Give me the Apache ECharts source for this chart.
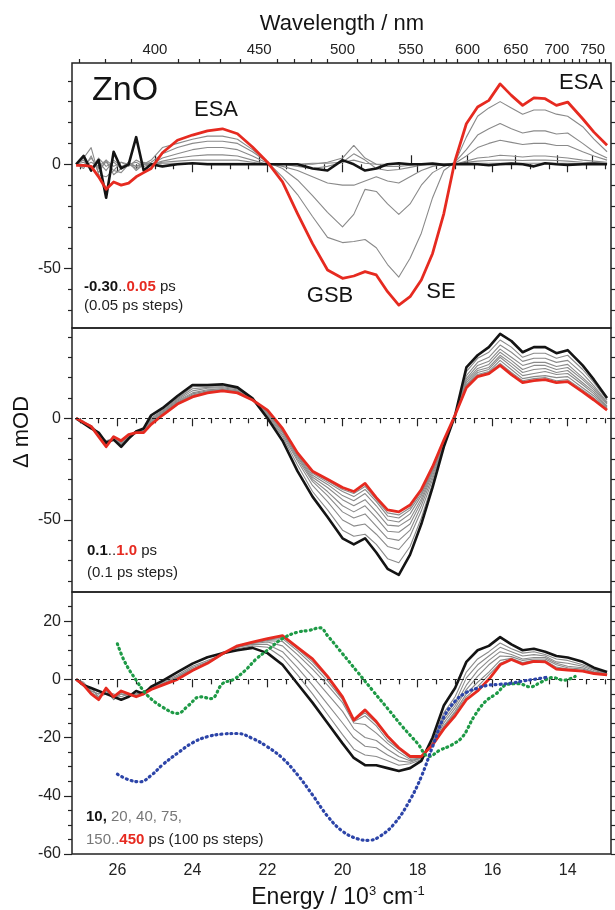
<!DOCTYPE html>
<html>
<head>
<meta charset="utf-8">
<title>ZnO transient spectra</title>
<script src="https://cdn.jsdelivr.net/npm/echarts@6/dist/echarts.min.js"></script>
<style>
html, body { margin: 0; padding: 0; background: #fff; }
#chart { width: 615px; height: 910px; }
</style>
</head>
<body>
<div id="chart"></div>
<script>
var FONT = '"Liberation Sans", Arial, Helvetica, sans-serif';

// energy grid, 10^3 cm-1 (shared by all transient curves)
var energy = [27.1, 26.9, 26.7, 26.5, 26.3, 26.1, 25.9, 25.7, 25.5, 25.3,
  25.1, 24.8, 24.4, 24.0, 23.6, 23.2, 22.8, 22.4, 22.0, 21.6,
  21.2, 20.8, 20.4, 20.0, 19.7, 19.4, 19.1, 18.8, 18.5, 18.2,
  17.9, 17.6, 17.3, 17.0, 16.7, 16.4, 16.1, 15.8, 15.5, 15.2,
  14.9, 14.6, 14.3, 14.0, 13.6, 13.3, 12.95];

/* top panel: -0.30 .. 0.05 ps */
var topBlack = [0, 4, -3, 2, -16, 6, -2, 0, 13, -3,
  0, -1, 0, 0.5, 0, 0, 0, 0, 0, 0,
  0, -2, -3, 2, 0, -3, -2, 0, 0.5, 0,
  0, 0.3, -0.3, 0, 0.2, 0, -0.5, 0, 0.3, 0,
  -1, 0.5, 0, -0.3, 0, 0.2, 0];
var topGray1 = [0, 3, 8, -5, -6, -3, -4, 0, -2, 0,
  2, 8, 10, 12, 13.5, 13.5, 12, 7, 1, -6,
  -14.5, -25, -35, -37.5, -37, -36, -40, -48, -54, -45,
  -33, -16, -3, 1, 13, 23, 27, 30, 27, 24,
  26, 26, 24, 23, 18, 12, 6];
var topGray2 = [0, -2, 4, -4, 2, -5, -2, 1, -3, 0,
  1, 5, 8, 10, 11, 11, 10, 6, 1, -2,
  -7.5, -15, -23, -30, -24, -12, -13, -19, -24, -19,
  -10, -4, -1, 1, 7, 14, 17, 19.5, 17, 15,
  16, 16, 14.5, 15, 10, 6, 3];
var topGray3 = [0, 2, -2, 1, -3, 2, -1, 0, 1, -1,
  0, 3, 5, 7, 8, 8, 7, 4, 0.5, -1,
  -3, -6, -9, -10, -10, -8, -6, -8, -9, -6,
  -3, -1, 0, 0.5, 4, 8, 10, 11.5, 10.5, 9.5,
  10, 10, 9, 9, 6, 4, 2];
var topGray4 = [0, -1, 3, -2, 1, -3, 1, -1, 2, 0,
  0, 1.5, 3, 4, 4.5, 4.5, 4, 2, 0, 0,
  -1, -2, -1, 1, 5, 2, -2, -3, -2.5, -1.5,
  -0.5, 0, 0, 0, 1.5, 3, 3.5, 4.3, 4, 3.5,
  4, 4, 3.5, 3, 2, 1.5, 1];
var topGray5 = [0, 1, -2, 3, -1, 1, -2, 1, -1, 1,
  0, 1, 1.5, 2, 2, 2, 2, 1, 0, 0,
  0, 0, 1, 3, 9, 3, 0, -1, -1, -0.5,
  0, 0, 0, 0, 1, 1.5, 1.8, 2, 2, 1.8,
  2, 2, 1.8, 1.5, 1, 0.8, 0.5];
var topGray6 = [0, -1, 1, -1, 2, -1, 1, 0, -1, 0,
  0, 0.5, 0.5, 0.5, 0.5, 0.5, 0.5, 0.5, 0, 0,
  0, 0.5, 0.5, 1, 2, 0.5, 0, 0, 0, 0,
  0, 0, 0, 0, 0.3, 0.5, 0.5, 0.5, 0.5, 0.5,
  0.5, 0.5, 0.5, 0.5, 0.3, 0.2, 0.1];
var topRed = [-0.5, -0.5, -1, -6, -12, -8.5, -10, -9, -6, -4,
  -2, 5.5, 11.5, 14, 16, 17, 14.6, 8.3, 1, -8.4,
  -23.6, -38, -50.6, -54.6, -53.5, -51.4, -53, -61, -67.4, -63.4,
  -55.4, -42.7, -23.6, 1.9, 19.4, 27.4, 30.6, 38.5, 33, 28.2,
  31.8, 31.4, 28.2, 29.8, 21.8, 15.4, 9.1];

/* middle panel: 0.1 .. 1.0 ps */
var midBlack = [0, -2.5, -5, -7, -12, -10.5, -14, -10, -6.5, -5,
  1.5, 5, 11, 16.4, 16.4, 16.7, 15.2, 9.8, 0, -11,
  -26, -38.5, -48.5, -59, -62, -59, -66, -74, -77, -67,
  -52, -34, -14, 1.5, 25, 31, 35, 41.5, 38, 32.5,
  35, 35, 32, 33.5, 26, 19, 10];
var midGray1 = [0, -1.5, -4, -8, -11, -10, -13, -9.5, -6, -5.5,
  1, 4.5, 10, 15.5, 15.8, 16, 14.8, 10, 1, -9,
  -23, -36, -45, -55, -58, -57, -62, -69, -71, -63,
  -49, -32, -13, 1.5, 23, 29.5, 32.5, 38.5, 35, 30,
  32, 32, 29.5, 31, 24, 17.5, 9];
var midGray2 = [0, -2, -3.5, -7, -13, -9, -12, -9, -7, -6,
  0, 4, 9.5, 14.5, 15.2, 15.5, 14.5, 10, 1.5, -8,
  -21, -33, -41, -50, -53, -52, -57, -63, -64.5, -58,
  -45.5, -30, -12.5, 1.5, 21, 27.5, 30, 36, 32.5, 28,
  29.5, 29.5, 27.5, 28.5, 22, 16, 8];
var midGray3 = [0, -2, -4, -8, -12, -9.5, -12.5, -8.5, -7, -6,
  -0.5, 3.5, 9, 13.5, 14.8, 15, 14, 9.8, 2, -7,
  -20, -31, -38, -46, -49, -47, -53, -59, -60, -55,
  -43, -28.5, -12, 1.5, 19.5, 26, 28, 34, 30, 26,
  27.5, 27.5, 25.5, 26.5, 20, 15, 7.5];
var midGray4 = [0, -2, -4, -8.5, -13, -9, -12, -8.5, -7, -6.5,
  -1, 3, 8.5, 12.5, 14, 14.5, 13.5, 9.5, 2.5, -6.5,
  -19, -30, -36, -43, -46, -43, -49, -55.5, -56, -52,
  -41, -27, -11.5, 1.5, 18.5, 24.5, 26.5, 32.5, 28.5, 24,
  26, 26, 24, 25, 19, 14, 7];
var midGray5 = [0, -2, -4, -9, -13.5, -9, -11.5, -8, -7, -6.5,
  -1.5, 2.5, 8, 12, 13.5, 14.2, 13.2, 9.3, 3, -6,
  -18.5, -29, -34, -40, -43, -40, -46, -52.5, -53, -49.5,
  -39.5, -26, -11, 1.5, 17.5, 23.5, 25, 31, 27, 22.5,
  24, 24.5, 22.5, 23.5, 17.5, 13, 6];
var midGray6 = [0, -2, -4, -9, -13.5, -9, -11.5, -8, -7, -7,
  -2, 2, 7.5, 11.5, 13, 14, 13, 9.2, 3.5, -5.5,
  -18, -28, -32.5, -38, -40.5, -37, -43, -50, -51, -47,
  -38, -25.5, -11, 1.5, 16.5, 22.5, 24, 30, 25.5, 21,
  22, 23, 21.5, 22, 16.5, 12, 5.5];
var midGray7 = [0, -2, -4, -9, -14, -9, -11, -8, -7, -7,
  -2.5, 2, 7.5, 11, 12.8, 13.8, 12.8, 9.2, 3.8, -5.2,
  -17.5, -27, -31.5, -36, -38.5, -35, -41, -48, -49, -45,
  -37, -25, -11, 1.5, 16, 21.5, 23, 28.5, 24, 19.5,
  20.5, 21, 20, 20.5, 15, 11, 5];
var midGray8 = [0, -2, -4, -9, -14, -9, -11, -8, -7, -7,
  -3, 1.8, 7.2, 10.8, 12.6, 13.6, 12.6, 9.1, 3.9, -5.1,
  -17.2, -26.5, -30.7, -35, -37, -33.5, -40, -46.5, -47.5, -44,
  -36, -24.5, -10.8, 1.6, 15.5, 21, 22.5, 27, 22.5, 18.5,
  19.5, 20, 18.5, 19, 14, 10, 4.5];
var midRed = [0, -2, -4, -9, -14, -9, -11, -8, -7, -7,
  -3, 1.5, 7, 10.5, 12.5, 13.5, 12.5, 9, 4, -5,
  -17, -26, -30, -34, -36, -32, -39, -45, -46, -42.6,
  -35, -23.8, -10.7, 1.6, 15, 20.5, 22, 26, 21.5, 17.5,
  18.5, 19, 17.5, 18, 13, 9, 4];

/* bottom panel: 10, 20, 40, 75, 150..450 ps */
var botBlack = [0, -2, -3, -4, -5, -6, -7, -6, -4, -5,
  -2.5, -0.5, 2.5, 5.4, 7.6, 9, 10, 10.8, 9, 5,
  -1.5, -8, -15, -22, -27, -29.5, -29.5, -30.5, -31.5, -30.5,
  -28, -20, -9, -3, 6, 10, 11.5, 14.5, 12, 10,
  10.5, 9.5, 8, 7.5, 6, 4, 2.5];
var botGray1 = [0, -1, -4, -5, -4, -7, -5, -6, -5, -4,
  -3, -1, 1.5, 4.5, 6.5, 8.5, 10.5, 11.5, 11, 7.5,
  1.5, -5, -12, -19, -24, -26, -26.5, -28, -29.5, -29,
  -27.5, -21.5, -11.5, -6, 2.5, 7, 9.5, 12.5, 10.5, 9,
  9.5, 8.5, 7, 6.5, 5, 3.5, 2];
var botGray2 = [0, -2, -3, -6, -5, -5, -6, -5, -5, -4.5,
  -3, -1.5, 1, 4, 6, 8.5, 11, 12, 12, 9.5,
  4, -2, -8.5, -15, -20, -23, -23.5, -26, -28, -28.5,
  -27, -21.5, -13, -8, 0.5, 5, 8, 11, 9.5, 8,
  8.5, 8, 6, 5.5, 4.5, 3, 2];
var botGray3 = [0, -2, -4, -5, -4, -6, -5, -5.5, -5.5, -4.5,
  -3, -1.5, 1, 3.5, 5.5, 8.5, 11, 12.3, 12.8, 11.5,
  6.5, 1, -5, -11, -17, -20, -21, -24, -26.5, -28,
  -27, -22, -14, -9, -2, 3, 6.5, 9.5, 8.5, 7,
  7.5, 7.5, 5.5, 4.5, 4, 2.5, 2];
var botGray4 = [0, -1.5, -4.5, -6, -4, -6, -4.5, -5, -6, -5,
  -3, -1.5, 0.5, 3.5, 5.5, 8.5, 11, 12.5, 13.3, 13,
  8.5, 3.5, -2, -8, -15, -15.5, -18.5, -22, -25, -27.5,
  -27, -22.5, -15, -10, -3.5, 1, 5, 8, 7.8, 6.5,
  7, 7, 5, 4, 3.5, 2.5, 1.5];
var botGray5 = [0, -2, -5, -6.5, -3.5, -6, -4, -5, -6, -5,
  -3.5, -2, 0.5, 3, 5.5, 8.8, 11.2, 12.6, 13.6, 14,
  9.8, 5, -0.5, -7, -14.5, -12.5, -16, -21, -24, -27,
  -26.7, -22.5, -16, -11, -5, -1, 2.5, 6.5, 7.2, 5.8,
  6.5, 6.5, 4.2, 3.5, 3, 2.2, 1.5];
var botGray6 = [0, -2, -5, -7, -3, -6, -4, -5, -6, -5,
  -3.5, -2, 0.3, 3, 5.5, 8.8, 11.3, 12.7, 13.8, 14.5,
  10.5, 6, 0.5, -6.5, -14, -11.5, -15, -20, -23.8, -26.8,
  -26.6, -22.5, -16.5, -11.5, -6, -2.5, 1.5, 5.5, 7, 5.5,
  6.3, 6.2, 3.8, 3.3, 2.9, 2.1, 1.5];
var botRed = [0, -2, -5, -7, -3, -6, -4, -5, -6, -5,
  -3.5, -2, 0, 3, 5.5, 8.8, 11.5, 12.8, 14, 15,
  11, 7, 1, -6, -14, -10.5, -14.5, -19.5, -23.5, -26.5,
  -26.5, -22.5, -17, -12.5, -7, -4, 0, 5, 6.8, 5.2,
  6.2, 6, 3.5, 3.2, 2.8, 2, 1.5];

// dotted reference spectra in the bottom panel
var greenE = [26.0, 25.8, 25.5, 25.2, 24.8, 24.4, 24.1, 23.8, 23.5, 23.2,
  22.9, 22.6, 22.3, 22.0, 21.6, 21.2, 20.9, 20.6, 20.4, 20.0,
  19.6, 19.2, 18.8, 18.4, 18.0, 17.7, 17.4, 17.1, 16.8, 16.5,
  16.2, 15.9, 15.6, 15.3, 15.0, 14.7, 14.4, 14.1, 13.8];
var greenV = [12.2, 5.9, -0.3, -5.5, -9.5, -11.7, -8.9, -6, -6.6, -1.5,
  0, 3, 7, 10, 14, 16.2, 16.8, 17.7, 15, 8.8,
  2.5, -3.8, -10, -16.3, -22, -26.5, -24.3, -22.6, -19.7, -12.9,
  -7.7, -4.9, -1.7, -1.5, -2.6, -0.9, 0.6, -0.3, 1];
var blueE = [26.0, 25.7, 25.4, 25.1, 24.8, 24.4, 24.0, 23.6, 23.2, 22.8,
  22.4, 22.0, 21.6, 21.2, 20.8, 20.4, 20.0, 19.6, 19.3, 19.0,
  18.6, 18.2, 17.9, 17.6, 17.3, 17.0, 16.7, 16.4, 16.1, 15.8,
  15.5, 15.2, 14.9, 14.5];
var blueV = [-32.6, -34.5, -35.2, -33, -29.4, -25.4, -21.8, -19.7, -18.8, -18.6,
  -20.3, -23.2, -27.1, -32.8, -39.7, -47, -52.2, -54.8, -55.3, -53.9,
  -49.3, -41.4, -33.4, -23.1, -13, -7.5, -4.5, -3, -2, -1.7,
  -1.3, -0.6, 0, 0.8];

// tick values
var eMajor = [14, 16, 18, 20, 22, 24, 26];
var eMinor = [13, 13.5, 14.5, 15, 15.5, 16.5, 17, 17.5, 18.5, 19, 19.5, 20.5, 21, 21.5,
  22.5, 23, 23.5, 24.5, 25, 25.5, 26.5, 27];
var wlMajor = [400, 450, 500, 550, 600, 650, 700, 750];
var wlMinor = [370, 380, 390, 410, 420, 430, 440, 460, 470, 480, 490, 510, 520, 530, 540,
  560, 570, 580, 590, 610, 620, 630, 640, 660, 670, 680, 690, 710, 720, 730, 740, 760, 770];
var topMajor = [-50, 0], topMinor = [-70, -60, -40, -30, -20, -10, 10, 20, 30, 40];
var midMajor = [-50, 0], midMinor = [-80, -70, -60, -40, -30, -20, -10, 10, 20, 30, 40];
var botMajor = [-60, -40, -20, 0, 20];
var botMinor = [-55, -50, -45, -35, -30, -25, -15, -10, -5, 5, 10, 15, 25];

var E_MIN = 12.845, E_MAX = 27.21;
var RED = '#e62a20', BLACK = '#141414', GRAY = '#8a8a8a';

var tickLine = { color: '#222', width: 1.2 };
var labelStyle = { color: '#222', fontSize: 16, fontFamily: FONT };

function toEnergy(l) { return 1e4 / l; }

function xAx(gi, pos, ticks, len, labels, extra) {
  var a = {
    type: 'value', gridIndex: gi, position: pos, min: E_MIN, max: E_MAX, inverse: true,
    splitLine: { show: false }, axisLine: { show: false },
    axisTick: { show: true, length: len, customValues: ticks, lineStyle: tickLine },
    axisLabel: labels ? Object.assign({ customValues: ticks, margin: 9 }, labelStyle) : { show: false }
  };
  return Object.assign(a, extra || {});
}

function yAx(gi, pos, lo, hi, ticks, len, labels) {
  return {
    type: 'value', gridIndex: gi, position: pos, min: lo, max: hi,
    splitLine: { show: false }, axisLine: { show: false },
    axisTick: { show: true, length: len, customValues: ticks, lineStyle: tickLine },
    axisLabel: labels ? Object.assign({ customValues: ticks, margin: 11 }, labelStyle) : { show: false }
  };
}

var xAxes = [
  xAx(0, 'bottom', eMajor, 8, false),
  xAx(0, 'bottom', eMinor, 5, false),
  xAx(0, 'top', wlMajor.map(toEnergy), 9, true, {
    axisLabel: { customValues: wlMajor.map(toEnergy), margin: 6, color: '#222', fontSize: 15, fontFamily: FONT,
      formatter: function (v) { return Math.round(1e4 / v); } }
  }),
  xAx(0, 'top', wlMinor.map(toEnergy), 4, false),
  xAx(1, 'bottom', eMajor, 8, false),
  xAx(1, 'bottom', eMinor, 5, false),
  xAx(2, 'bottom', eMajor, 8, true),
  xAx(2, 'bottom', eMinor, 5, false)
];

var yAxes = [
  yAx(0, 'left', -78.4, 48.5, topMajor, 8, true),
  yAx(0, 'left', -78.4, 48.5, topMinor, 4, false),
  yAx(0, 'right', -78.4, 48.5, topMajor.concat(topMinor), 4, false),
  yAx(1, 'left', -85.4, 44.4, midMajor, 8, true),
  yAx(1, 'left', -85.4, 44.4, midMinor, 4, false),
  yAx(1, 'right', -85.4, 44.4, midMajor.concat(midMinor), 4, false),
  yAx(2, 'left', -60, 30, botMajor, 8, true),
  yAx(2, 'left', -60, 30, botMinor, 4, false),
  yAx(2, 'right', -60, 30, botMajor.concat(botMinor), 4, false)
];

var xIdx = [0, 4, 6], yIdx = [0, 3, 6];

function curve(gi, xs, ys, color, width, z, extra) {
  var s = {
    type: 'line', xAxisIndex: xIdx[gi], yAxisIndex: yIdx[gi],
    data: xs.map(function (e, i) { return [e, ys[i]]; }),
    symbol: 'none', showSymbol: false, silent: true, z: z,
    lineStyle: { color: color, width: width, join: 'round' }
  };
  return Object.assign(s, extra || {});
}

var zeroLine = {
  silent: true, symbol: 'none', label: { show: false },
  lineStyle: { color: '#222', width: 1, type: [4, 3] },
  data: [{ yAxis: 0 }]
};

var series = [];
[topGray6, topGray5, topGray4, topGray3, topGray2, topGray1].forEach(function (g) {
  series.push(curve(0, energy, g, GRAY, 1.1, 2));
});
series.push(curve(0, energy, topBlack, BLACK, 2.6, 3));
series.push(curve(0, energy, topRed, RED, 2.8, 4));

series.push(curve(1, energy, midBlack, BLACK, 2.6, 3, { markLine: zeroLine }));
[midGray1, midGray2, midGray3, midGray4, midGray5, midGray6, midGray7, midGray8].forEach(function (g) {
  series.push(curve(1, energy, g, GRAY, 1.1, 2));
});
series.push(curve(1, energy, midRed, RED, 2.8, 4));

series.push(curve(2, energy, botBlack, BLACK, 2.6, 3, { markLine: zeroLine }));
[botGray1, botGray2, botGray3, botGray4, botGray5, botGray6].forEach(function (g) {
  series.push(curve(2, energy, g, GRAY, 1.1, 2));
});
series.push(curve(2, energy, botRed, RED, 2.8, 4));
series.push(curve(2, greenE, greenV, '#1e9a46', 3.2, 5, { smooth: 0.4, lineStyle: { color: '#1e9a46', width: 3.2, type: [1, 4], cap: 'round' } }));
series.push(curve(2, blueE, blueV, '#2c44a8', 3.2, 5, { smooth: 0.4, lineStyle: { color: '#2c44a8', width: 3.2, type: [1, 4], cap: 'round' } }));

function txt(x, y, text, size, opts) {
  return Object.assign({
    type: 'text', x: x, y: y, silent: true, z: 50,
    style: Object.assign({ text: text, fontSize: size, fontFamily: FONT, fill: '#141414',
      align: 'center', verticalAlign: 'middle' }, (opts && opts.style) || {})
  }, (opts && opts.el) || {});
}

var rich = {
  n: { fontSize: 15, fontFamily: FONT, fill: '#222' },
  b: { fontSize: 15, fontFamily: FONT, fill: '#141414', fontWeight: 'bold' },
  r: { fontSize: 15, fontFamily: FONT, fill: RED, fontWeight: 'bold' },
  g: { fontSize: 15, fontFamily: FONT, fill: '#777' }
};
function legendLine(x, y, text) {
  return txt(x, y, text, 15, { style: { align: 'left', rich: rich } });
}

var graphic = [
  txt(92, 91, 'ZnO', 34, { style: { align: 'left' } }),
  txt(216, 110, 'ESA', 22),
  txt(581, 83, 'ESA', 22),
  txt(330, 296, 'GSB', 22),
  txt(441, 292, 'SE', 22),
  legendLine(84, 287, '{b|-0.30}{n|..}{r|0.05}{n| ps}'),
  legendLine(84, 306, '{n|(0.05 ps steps)}'),
  legendLine(87, 551, '{b|0.1}{n|..}{r|1.0}{n| ps}'),
  legendLine(87, 573, '{n|(0.1 ps steps)}'),
  legendLine(86, 817, '{b|10,}{g| 20, 40, 75,}'),
  legendLine(86, 840, '{g|150..}{r|450}{n| ps (100 ps steps)}'),
  txt(342, 24, 'Wavelength / nm', 22),
  txt(22, 432, 'Δ mOD', 22, { el: { rotation: Math.PI / 2 } }),
  txt(338, 898, '{a|Energy / 10}{s|3}{a| cm}{s|-1}', 23, { style: { rich: {
    a: { fontSize: 23, fontFamily: FONT, fill: '#141414', lineHeight: 26 },
    s: { fontSize: 13, fontFamily: FONT, fill: '#141414', verticalAlign: 'top', lineHeight: 26 }
  } } })
];

var frame = { show: true, borderColor: '#222', borderWidth: 1.5, backgroundColor: 'transparent' };

var chart = echarts.init(document.getElementById('chart'), null, { renderer: 'canvas' });
chart.setOption({
  animation: false,
  backgroundColor: '#fff',
  grid: [
    Object.assign({ left: 72, right: 4, top: 63, height: 265 }, frame),
    Object.assign({ left: 72, right: 4, top: 328, height: 264 }, frame),
    Object.assign({ left: 72, right: 4, top: 592, height: 262 }, frame)
  ],
  xAxis: xAxes,
  yAxis: yAxes,
  series: series,
  graphic: graphic
});
</script>
</body>
</html>
